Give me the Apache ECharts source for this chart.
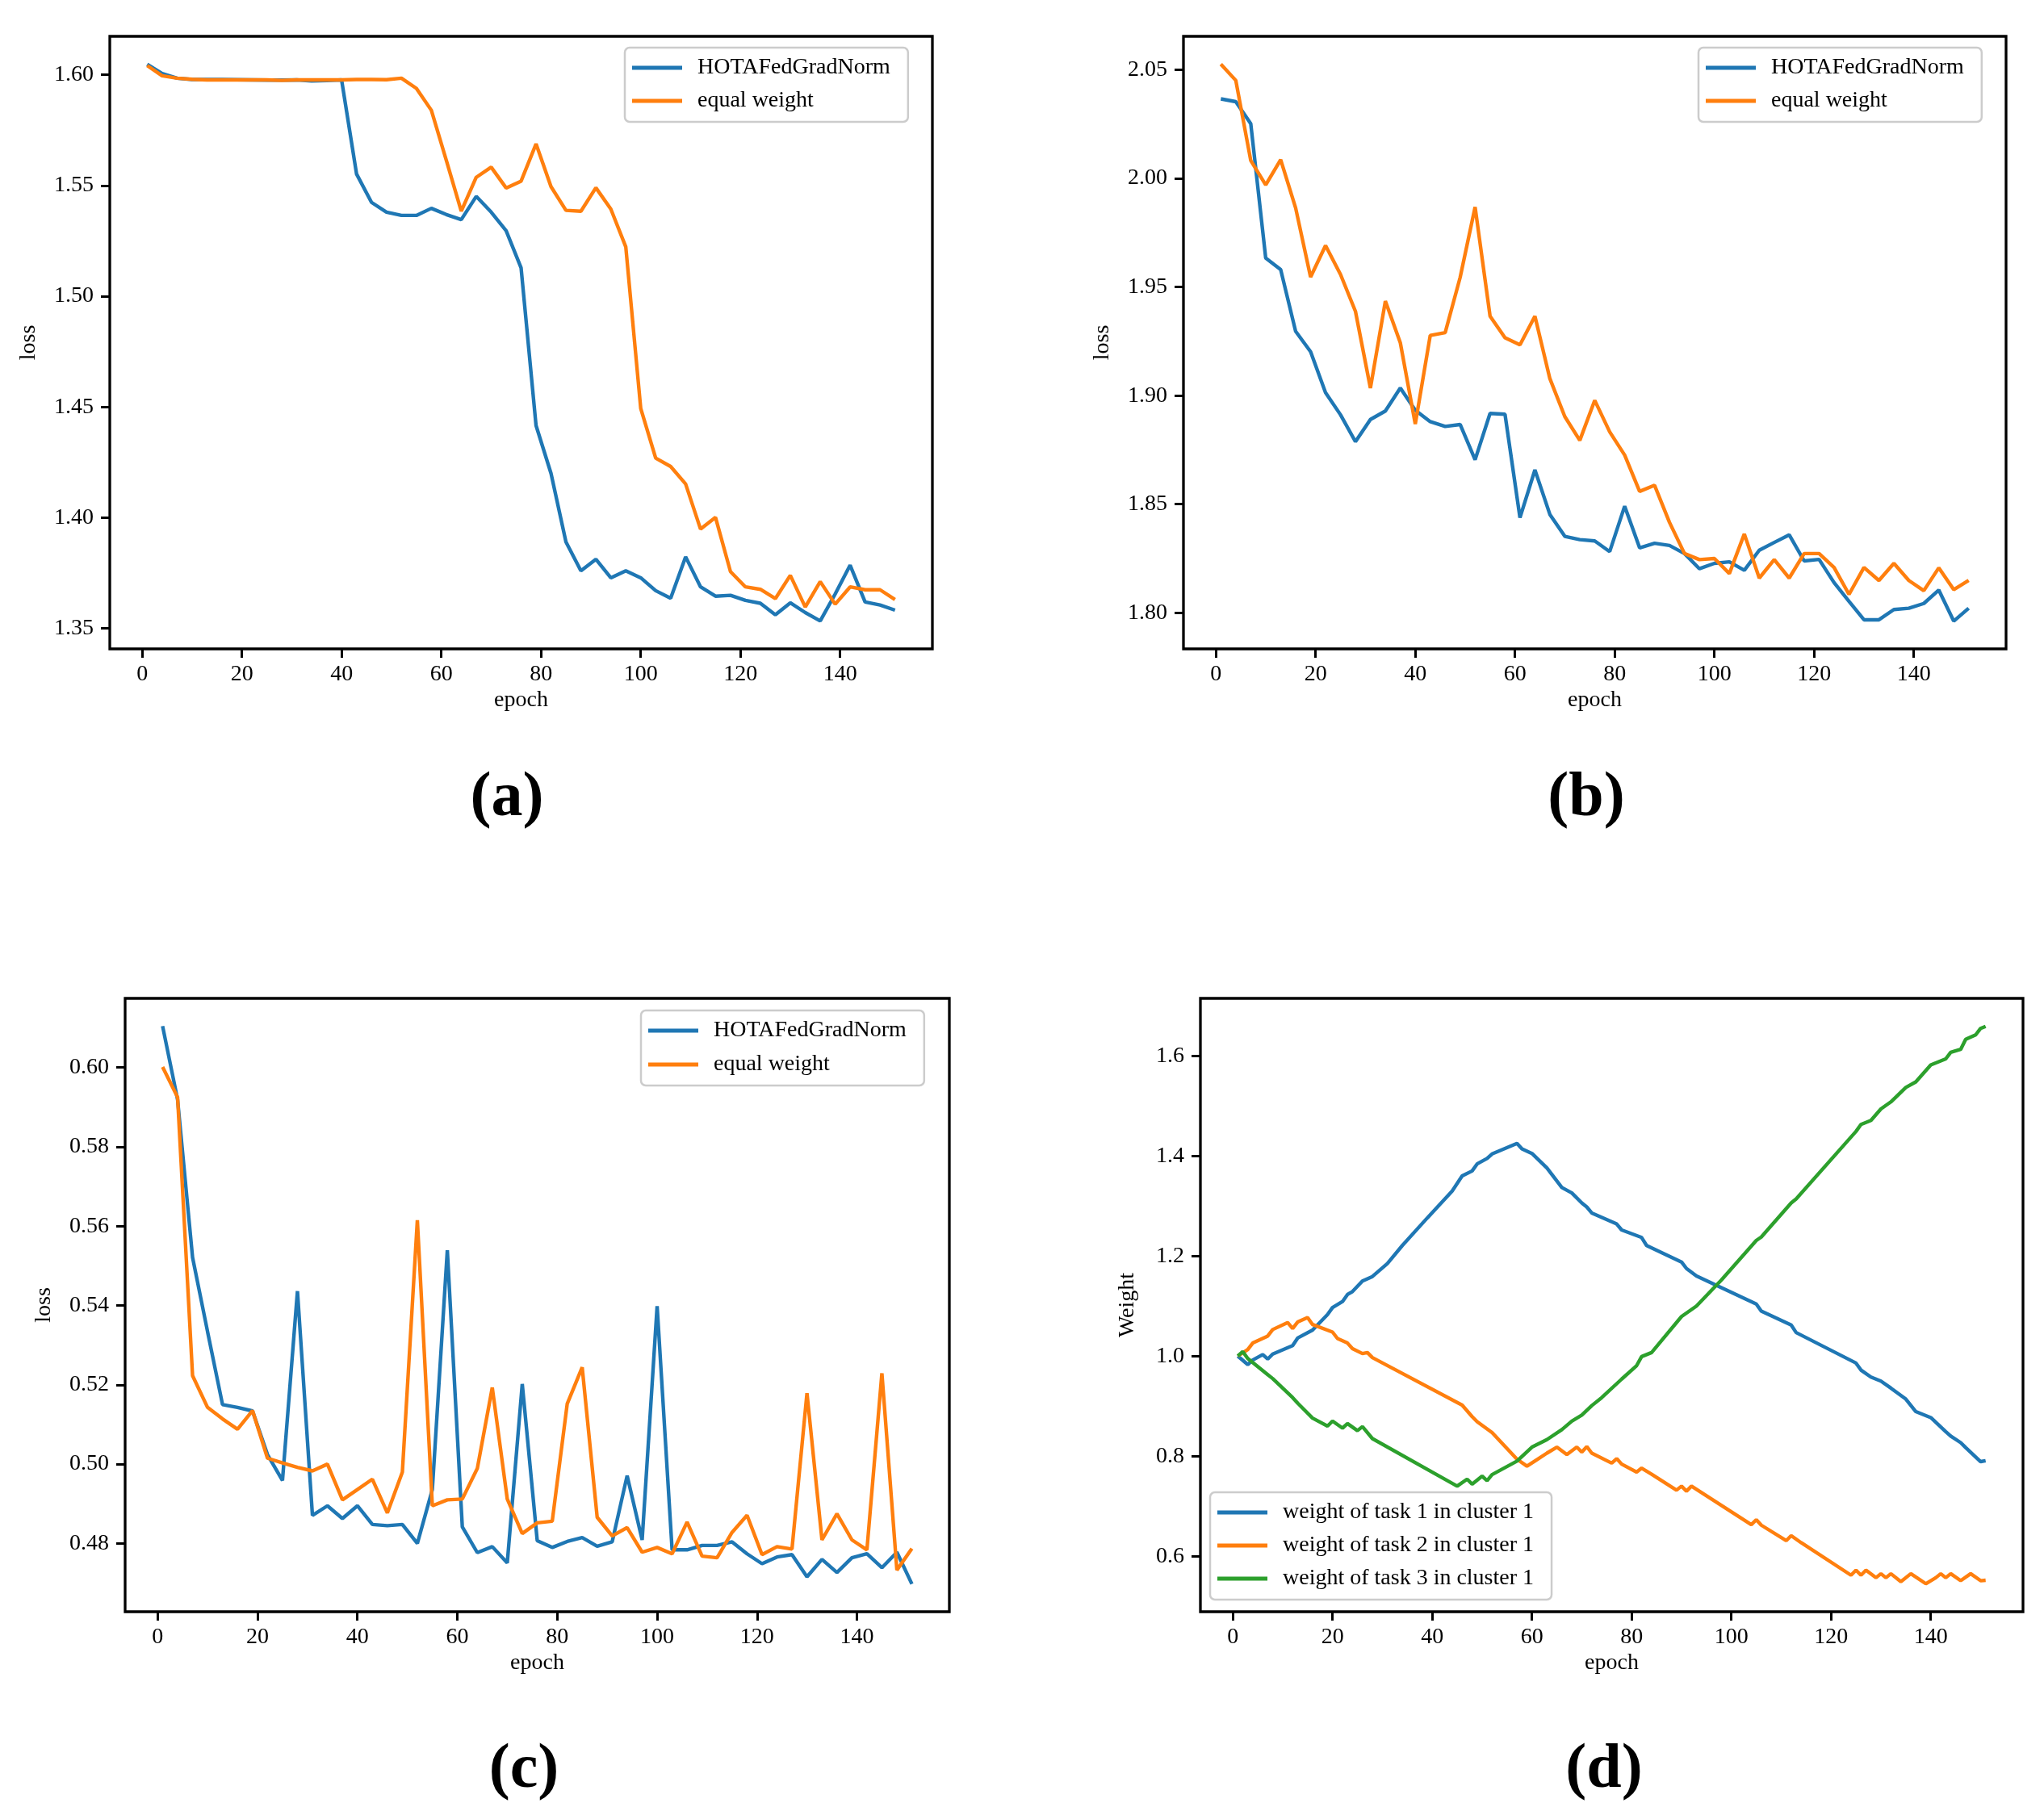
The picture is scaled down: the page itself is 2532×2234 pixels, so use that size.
<!DOCTYPE html>
<html>
<head>
<meta charset="utf-8">
<script src="https://cdn.jsdelivr.net/npm/echarts@6/dist/echarts.min.js"></script>
<style>
  html, body { margin: 0; padding: 0; background: #fff; }
  #main { width: 2532px; height: 2234px; }
</style>
</head>
<body>
<div id="main"></div>
<script>
// epochs of panels (a)-(c)
const epochs = [1, 4, 7, 10, 13, 16, 19, 22, 25, 28, 31, 34, 37, 40, 43, 46, 49, 52, 55, 58,
  61, 64, 67, 70, 73, 76, 79, 82, 85, 88, 91, 94, 97, 100, 103, 106, 109, 112, 115, 118,
  121, 124, 127, 130, 133, 136, 139, 142, 145, 148, 151];
const xTicks = [0, 20, 40, 60, 80, 100, 120, 140];

// (a)
const aHota = [1.6048, 1.6006, 1.5985, 1.5979, 1.5979, 1.5979, 1.5978, 1.5977, 1.5976, 1.5976,
  1.5977, 1.5972, 1.5974, 1.5977, 1.5552, 1.5424, 1.538, 1.5365, 1.5365, 1.5397,
  1.5369, 1.5346, 1.5451, 1.538, 1.5296, 1.5128, 1.4416, 1.42, 1.389, 1.376,
  1.3812, 1.3728, 1.376, 1.3728, 1.367, 1.3636, 1.3823, 1.3687, 1.3645, 1.3649,
  1.3626, 1.3613, 1.3561, 1.3615, 1.3571, 1.3533, 1.3655, 1.3785, 1.3619, 1.3605, 1.3582];
const aEqual = [1.6042, 1.5996, 1.5985, 1.598, 1.5977, 1.5977, 1.5977, 1.5977, 1.5977, 1.5975,
  1.5977, 1.5977, 1.5977, 1.5977, 1.5979, 1.5979, 1.5978, 1.5985, 1.5939, 1.584,
  1.5614, 1.5384, 1.5537, 1.5583, 1.5489, 1.552, 1.5688, 1.5495, 1.5388, 1.5384,
  1.549, 1.5394, 1.5223, 1.4493, 1.4269, 1.4231, 1.4152, 1.3948, 1.4001, 1.3756,
  1.3687, 1.3676, 1.3634, 1.3739, 1.3596, 1.3711, 1.3609, 1.3687, 1.3674, 1.3674, 1.363];
const aTicks = [1.35, 1.40, 1.45, 1.50, 1.55, 1.60];

// (b)
const bHota = [2.0366, 2.0353, 2.0252, 1.9633, 1.958, 1.9296, 1.9202, 1.9014, 1.8912, 1.8788,
  1.889, 1.8929, 1.9035, 1.8933, 1.888, 1.8858, 1.8867, 1.8705, 1.8918, 1.8914,
  1.8438, 1.8658, 1.8453, 1.8352, 1.8337, 1.8331, 1.8282, 1.8491, 1.8299, 1.832,
  1.831, 1.8273, 1.8203, 1.8228, 1.8235, 1.8196, 1.8288, 1.8324, 1.8359, 1.8239,
  1.8246, 1.8139, 1.8053, 1.7968, 1.7968, 1.8015, 1.8021, 1.8043, 1.8105, 1.7962, 1.8021];
const bEqual = [2.0526, 2.0451, 2.0082, 1.997, 2.0086, 1.9864, 1.9546, 1.9691, 1.9558, 1.9388,
  1.9035, 1.9435, 1.9243, 1.8869, 1.9277, 1.929, 1.9544, 1.9868, 1.9366, 1.9266,
  1.9234, 1.9366, 1.9078, 1.8903, 1.8794, 1.8978, 1.8833, 1.8726, 1.8559, 1.8587,
  1.8416, 1.8273, 1.8245, 1.825, 1.8181, 1.8363, 1.816, 1.8245, 1.816, 1.8273,
  1.8273, 1.8209, 1.8085, 1.8209, 1.8149, 1.8228, 1.8149, 1.8102, 1.8207, 1.8107, 1.8149];
const bTicks = [1.80, 1.85, 1.90, 1.95, 2.00, 2.05];

// (c)
const cHota = [0.6104, 0.5919, 0.5521, 0.5334, 0.515, 0.5143, 0.5134, 0.5024, 0.4959, 0.5436,
  0.4871, 0.4895, 0.4863, 0.4895, 0.4848, 0.4845, 0.4848, 0.48, 0.4936, 0.5539,
  0.4842, 0.4777, 0.4792, 0.4751, 0.5202, 0.4807, 0.479, 0.4805, 0.4815, 0.4793,
  0.4804, 0.4971, 0.4809, 0.5398, 0.4784, 0.4784, 0.4795, 0.4795, 0.4804, 0.4774,
  0.4749, 0.4766, 0.4772, 0.4716, 0.476, 0.4727, 0.4764, 0.4774, 0.4739, 0.4778, 0.4698];
const cEqual = [0.6001, 0.5925, 0.5223, 0.5143, 0.5114, 0.5088, 0.5135, 0.5015, 0.5003, 0.4992,
  0.4983, 0.5, 0.491, 0.4936, 0.4962, 0.4877, 0.498, 0.5615, 0.4895, 0.491,
  0.4912, 0.4989, 0.5193, 0.4912, 0.4825, 0.4852, 0.4856, 0.5152, 0.5244, 0.4866,
  0.4819, 0.484, 0.4778, 0.479, 0.4774, 0.4854, 0.4768, 0.4764, 0.4828, 0.4871,
  0.4772, 0.4792, 0.4786, 0.5179, 0.4809, 0.4875, 0.4809, 0.4784, 0.5229, 0.4733, 0.4787];
const cTicks = [0.48, 0.50, 0.52, 0.54, 0.56, 0.58, 0.60];

// (d) weights, read at the turning points
const dEp1 = [1, 3, 4, 6, 7, 8, 12, 13, 16, 19, 20, 22, 23, 24, 26, 28, 31, 34, 39, 44, 46, 48, 49, 51, 52,
  57, 58, 60, 63, 66, 68, 70, 71, 72, 77, 78, 82, 83, 90, 91, 93, 105, 106, 112, 113,
  125, 126, 128, 130, 132, 135, 137, 140, 143, 144, 146, 147, 150, 151];
const dW1 = [1.000, 0.983, 0.992, 1.003, 0.994, 1.004, 1.021, 1.036, 1.052, 1.083, 1.097, 1.109, 1.123, 1.129, 1.150, 1.159, 1.185, 1.221, 1.276, 1.330, 1.360, 1.370, 1.384, 1.395, 1.404,
  1.425, 1.414, 1.405, 1.376, 1.337, 1.326, 1.306, 1.298, 1.286, 1.264, 1.252, 1.237, 1.221, 1.188, 1.175, 1.160, 1.104, 1.090, 1.062, 1.047,
  0.986, 0.972, 0.958, 0.950, 0.936, 0.914, 0.889, 0.877, 0.849, 0.840, 0.827, 0.817, 0.789, 0.791];
const dEp2 = [1, 3, 4, 7, 8, 11, 12, 13, 15, 16, 20, 21, 23, 24, 26, 27, 28, 46, 48, 49, 52, 57, 59, 61, 63,
  65, 67, 69, 70, 71, 72, 76, 77, 78, 81, 82, 84, 89, 90, 91, 92, 104, 105, 106, 111,
  112, 114, 124, 125, 126, 127, 129, 130, 131, 132, 134, 136, 139, 141, 142, 143, 144, 146, 148, 150, 151];
const dW2 = [1.000, 1.013, 1.026, 1.040, 1.053, 1.067, 1.055, 1.068, 1.077, 1.063, 1.048, 1.035, 1.026, 1.015, 1.005, 1.007, 0.997, 0.902, 0.879, 0.869, 0.847, 0.794, 0.780, 0.793, 0.806,
  0.818, 0.803, 0.818, 0.808, 0.819, 0.806, 0.786, 0.795, 0.784, 0.768, 0.776, 0.764, 0.732, 0.740, 0.730, 0.740, 0.663, 0.673, 0.662, 0.631,
  0.641, 0.627, 0.562, 0.572, 0.562, 0.572, 0.557, 0.565, 0.557, 0.565, 0.549, 0.565, 0.545, 0.557, 0.565, 0.557, 0.565, 0.551, 0.565, 0.551, 0.552];
const dEp3 = [1, 2, 3, 7, 8, 12, 13, 16, 19, 20, 22, 23, 25, 26, 28, 45, 47, 48, 50, 51, 52, 57, 60, 63, 66,
  68, 70, 72, 74, 78, 81, 82, 84, 90, 93, 98, 105, 106, 112, 113, 125, 126, 128, 130, 132,
  135, 137, 140, 143, 144, 146, 147, 149, 150, 151];
const dW3 = [1.000, 1.009, 0.995, 0.963, 0.955, 0.917, 0.906, 0.876, 0.860, 0.870, 0.856, 0.865, 0.851, 0.859, 0.835, 0.740, 0.754, 0.744, 0.760, 0.751, 0.763, 0.790, 0.818, 0.833, 0.853,
  0.870, 0.882, 0.901, 0.917, 0.954, 0.981, 0.999, 1.007, 1.079, 1.100, 1.152, 1.231, 1.238, 1.306, 1.314, 1.449, 1.463, 1.471, 1.494, 1.508,
  1.537, 1.548, 1.582, 1.594, 1.607, 1.613, 1.633, 1.642, 1.655, 1.659];
const dTicks = [0.6, 0.8, 1.0, 1.2, 1.4, 1.6];

const FONT = 'Liberation Serif';
const BLUE = '#1f77b4', ORANGE = '#ff7f0e', GREEN = '#2ca02c';

const pairs = (xs, ys) => xs.map((x, i) => [x, ys[i]]);

const grids = [
  { left: 136, top: 45, width: 1019, height: 759 },
  { left: 1466, top: 45, width: 1019, height: 759 },
  { left: 155, top: 1237, width: 1021, height: 760 },
  { left: 1487, top: 1237, width: 1019, height: 760 }
].map(g => Object.assign(g, { show: true, borderColor: '#000', borderWidth: 3.3, backgroundColor: '#fff' }));

function xAxisFor(i) {
  return {
    type: 'value', gridIndex: i, min: -6.5, max: 158.5,
    name: 'epoch', nameLocation: 'middle', nameGap: 50,
    nameTextStyle: { fontFamily: FONT, fontSize: 28, color: '#000' },
    axisLine: { show: false, onZero: false },
    axisTick: { show: true, length: 11, lineStyle: { color: '#000', width: 3 }, customValues: xTicks },
    axisLabel: { fontFamily: FONT, fontSize: 28, color: '#000', margin: 18, customValues: xTicks },
    splitLine: { show: false }
  };
}

function yAxisFor(i, name, min, max, ticks, dec, gap) {
  return {
    type: 'value', gridIndex: i, min: min, max: max,
    name: name, nameLocation: 'middle', nameGap: gap,
    nameTextStyle: { fontFamily: FONT, fontSize: 28, color: '#000' },
    axisLine: { show: false, onZero: false },
    axisTick: { show: true, length: 11, lineStyle: { color: '#000', width: 3 }, customValues: ticks },
    axisLabel: { fontFamily: FONT, fontSize: 28, color: '#000', margin: 20, customValues: ticks,
      formatter: v => v.toFixed(dec) },
    splitLine: { show: false }
  };
}

function line(name, i, data, color) {
  return {
    type: 'line', name: name, xAxisIndex: i, yAxisIndex: i, data: data,
    symbol: 'none', color: color, lineStyle: { width: 4.4, color: color },
    animation: false
  };
}

function legendAt(names, left, top, gap) {
  return {
    data: names, left: left, top: top, orient: 'vertical', icon: 'rect',
    itemWidth: 62, itemHeight: 5, itemGap: gap, selectedMode: false,
    padding: [10, 22, 11, 9], borderColor: '#cccccc', borderWidth: 2.5, borderRadius: 6,
    backgroundColor: '#fff',
    textStyle: { fontFamily: FONT, fontSize: 28, color: '#000', lineHeight: 30, padding: [0, 0, 0, 14] }
  };
}

const lossNames = ['HOTAFedGradNorm', 'equal weight'];
const weightNames = ['weight of task 1 in cluster 1', 'weight of task 2 in cluster 1', 'weight of task 3 in cluster 1'];

const chart = echarts.init(document.getElementById('main'), null, { renderer: 'canvas' });
chart.setOption({
  backgroundColor: '#fff',
  animation: false,
  grid: grids,
  xAxis: [0, 1, 2, 3].map(xAxisFor),
  yAxis: [
    yAxisFor(0, 'loss', 1.3407, 1.6174, aTicks, 2, 86),
    yAxisFor(1, 'loss', 1.7834, 2.0654, bTicks, 2, 86),
    yAxisFor(2, 'loss', 0.4628, 0.6174, cTicks, 2, 86),
    yAxisFor(3, 'Weight', 0.489, 1.715, dTicks, 1, 76)
  ],
  legend: [
    legendAt(lossNames, 774, 59, 11),
    legendAt(lossNames, 2104, 59, 11),
    legendAt(lossNames, 794, 1252, 12),
    legendAt(weightNames, 1499, 1849, 11)
  ],
  series: [
    line('HOTAFedGradNorm', 0, pairs(epochs, aHota), BLUE),
    line('equal weight', 0, pairs(epochs, aEqual), ORANGE),
    line('HOTAFedGradNorm', 1, pairs(epochs, bHota), BLUE),
    line('equal weight', 1, pairs(epochs, bEqual), ORANGE),
    line('HOTAFedGradNorm', 2, pairs(epochs, cHota), BLUE),
    line('equal weight', 2, pairs(epochs, cEqual), ORANGE),
    line(weightNames[0], 3, pairs(dEp1, dW1), BLUE),
    line(weightNames[1], 3, pairs(dEp2, dW2), ORANGE),
    line(weightNames[2], 3, pairs(dEp3, dW3), GREEN)
  ],
  graphic: [
    ['(a)', 628, 990], ['(b)', 1965, 990], ['(c)', 649, 2194], ['(d)', 1987, 2194]
  ].map(t => ({
    type: 'text', x: t[1], y: t[2],
    style: { text: t[0], fill: '#000', font: 'bold 78px "' + FONT + '"', textAlign: 'center', textVerticalAlign: 'middle' }
  }))
});
</script>
</body>
</html>
